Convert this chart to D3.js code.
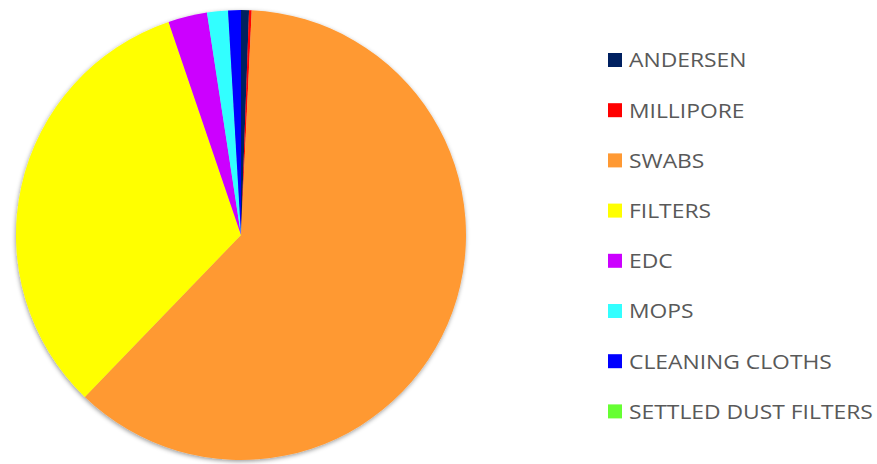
<!DOCTYPE html>
<html>
<head>
<meta charset="utf-8">
<script src="https://cdn.jsdelivr.net/npm/d3@7"></script>
<style>
  html, body { margin: 0; padding: 0; background: #fff; }
  svg { display: block; }
</style>
</head>
<body>
<svg id="chart" width="877" height="464"></svg>
<script>
// Share of samples by sampling method (percent)
const categories = ["ANDERSEN", "MILLIPORE", "SWABS", "FILTERS", "EDC", "MOPS", "CLEANING CLOTHS", "SETTLED DUST FILTERS"];
const values = [0.57, 0.19, 61.5, 32.6, 2.8, 1.5, 0.92, 0];
const colors = ["#002060", "#FF0000", "#FF9933", "#FFFF00", "#CC00FF", "#33FFFF", "#0000FF", "#66FF33"];

const data = categories.map((c, i) => ({ name: c, value: values[i] }));

const svg = d3.select("#chart");
const cx = 241, cy = 235, radius = 225;

// soft shadow under the pie
const defs = svg.append("defs");
const f = defs.append("filter").attr("id", "shadow")
  .attr("x", "-10%").attr("y", "-10%").attr("width", "120%").attr("height", "120%");
f.append("feDropShadow").attr("dx", -0.5).attr("dy", 1.5)
  .attr("stdDeviation", 2).attr("flood-color", "#000").attr("flood-opacity", 0.4);

const color = d3.scaleOrdinal().domain(categories).range(colors);

const pie = d3.pie().sort(null).value(d => d.value);
const arc = d3.arc().innerRadius(0).outerRadius(radius);

const g = svg.append("g")
  .attr("transform", `translate(${cx},${cy})`)
  .attr("filter", "url(#shadow)");

g.selectAll("path")
  .data(pie(data))
  .join("path")
  .attr("d", arc)
  .attr("fill", d => color(d.data.name));

// legend
const legendX = 608, legendY0 = 60, legendStep = 50.2, sw = 14;
const legend = svg.append("g").attr("font-family", "'Open Sans', 'Noto Sans', sans-serif")
  .attr("font-size", 20.5).attr("fill", "#595959");

const items = legend.selectAll("g")
  .data(categories)
  .join("g")
  .attr("transform", (d, i) => `translate(${legendX},${legendY0 + i * legendStep})`);

items.append("rect")
  .attr("x", 0).attr("y", -sw / 2)
  .attr("width", sw).attr("height", sw)
  .attr("fill", d => color(d));

items.append("text")
  .attr("transform", "translate(21,0) scale(1.115,1)")
  .attr("dy", "0.36em")
  .text(d => d);
</script>
</body>
</html>
